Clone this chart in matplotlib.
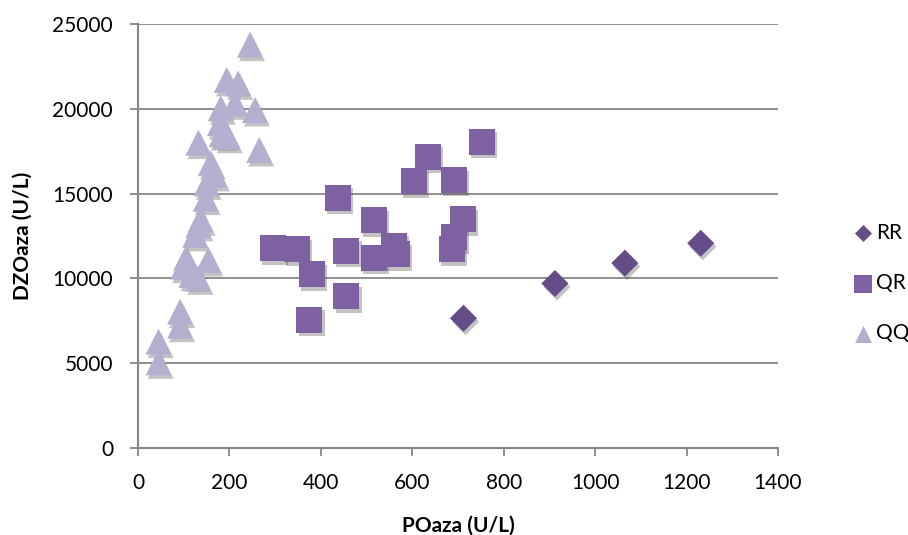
import numpy as np
import matplotlib
matplotlib.use('Agg')
import matplotlib.pyplot as plt
import matplotlib.patheffects as pe

# data
rr_x = [712, 912, 1065, 1231]
rr_y = [7650, 9700, 10900, 12070]

qr_x = [752, 635, 604, 692, 437, 517, 711, 691, 686, 296, 347, 380, 456, 517, 560, 566, 456, 375]
qr_y = [18060, 17180, 15740, 15800, 14760, 13440, 13480, 12420, 11710, 11770, 11730, 10240,
        11630, 11220, 11910, 11420, 8960, 7550]

qq_x = [45, 45, 92, 92, 99, 105, 117, 132, 154, 125, 132, 137, 148, 150, 168, 159, 132, 265,
        183, 196, 190, 179, 181, 212, 256, 194, 219, 245]
qq_y = [5050, 6270, 7210, 8040, 10690, 11200, 10200, 10000, 11080, 12560, 13150, 13480, 14700,
        15600, 16100, 16790, 18000, 17570, 18510, 18350, 18650, 19150, 20030, 20320, 19930,
        21700, 21500, 23780]

x_ticks = [0, 200, 400, 600, 800, 1000, 1200, 1400]
y_ticks = [0, 5000, 10000, 15000, 20000, 25000]

plt.rcParams['font.family'] = ['Lato', 'DejaVu Sans']

grey = '#868686'
shadow = [pe.SimplePatchShadow(offset=(1.5, -2.5), shadow_rgbFace='#555555', alpha=0.35), pe.Normal()]

fig = plt.figure(figsize=(9.08, 5.35), dpi=100)
ax = fig.add_axes([138 / 908, 1 - 448 / 535, 640 / 908, 424 / 535])

ax.scatter(rr_x, rr_y, marker='D', s=190, color='#644C87', linewidths=0, label='RR',
           path_effects=shadow, zorder=3)
ax.scatter(qr_x, qr_y, marker='s', s=350, color='#7D61A0', linewidths=0, label='QR',
           path_effects=shadow, zorder=3)
ax.scatter(qq_x, qq_y, marker='^', s=350, color='#B6AECE', linewidths=0, label='QQ',
           path_effects=shadow, zorder=3)

ax.set_xlim(0, 1400)
ax.set_ylim(0, 25000)
ax.set_xticks(x_ticks)
ax.set_yticks(y_ticks)
ax.yaxis.grid(True, color=grey, linewidth=1.3)
ax.set_axisbelow(True)

for s in ['top', 'right']:
    ax.spines[s].set_visible(False)
for s in ['left', 'bottom']:
    ax.spines[s].set_color(grey)
    ax.spines[s].set_linewidth(1.5)

ax.tick_params(axis='both', colors=grey, labelcolor='black', labelsize=15, length=6, width=1.3)
ax.tick_params(axis='y', pad=12)
ax.tick_params(axis='x', pad=12)

ax.set_xlabel('POaza (U/L)', fontsize=15, fontweight='bold', labelpad=16)
ax.set_ylabel('DZOaza (U/L)', fontsize=15, fontweight='bold', labelpad=14)

leg = ax.legend(loc='center left', bbox_to_anchor=(843 / 908, 1 - 283 / 535),
                bbox_transform=fig.transFigure, frameon=False, fontsize=15,
                handletextpad=0.2, labelspacing=1.45, handlelength=0.9, borderpad=0)
for h, size in zip(leg.legend_handles, [75, 150, 150]):
    h.set_path_effects([])
    h.set_sizes([size])

fig.savefig('out.png', dpi=100)
